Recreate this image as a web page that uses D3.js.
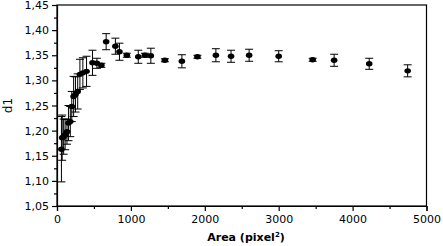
<!DOCTYPE html>
<html>
<head>
<meta charset="utf-8">
<script src="https://cdn.jsdelivr.net/npm/d3@7"></script>
<style>
  body { margin: 0; background: #fff; }
  svg { display: block; }
  text { font-family: "DejaVu Sans", Verdana, sans-serif; fill: #000; }
</style>
</head>
<body>
<div id="container"></div>
<script>
// data
const area = [60, 70, 90, 110, 135, 155, 180, 200, 225, 250, 280, 310, 350, 400, 480, 540, 600,
  665, 790, 845, 945, 1100, 1190, 1270, 1460, 1690, 1900, 2150, 2355, 2600, 3000, 3460, 3750, 4225, 4745]
const d1 = [1.163, 1.186, 1.188, 1.192, 1.198, 1.215, 1.218, 1.248, 1.268, 1.272, 1.278, 1.312, 1.315, 1.318, 1.335, 1.334, 1.330,
  1.377, 1.368, 1.357, 1.350, 1.347, 1.350, 1.349, 1.340, 1.338, 1.347, 1.350, 1.348, 1.350, 1.348, 1.341, 1.340, 1.333, 1.319]
const err = [0.065, 0.045, 0.035, 0.03, 0.025, 0.035, 0.03, 0.03, 0.04, 0.035, 0.035, 0.03, 0.03, 0.03, 0.025, 0.01, 0.004,
  0.016, 0.016, 0.017, 0.004, 0.013, 0.004, 0.015, 0.003, 0.013, 0.003, 0.013, 0.012, 0.012, 0.011, 0.003, 0.012, 0.011, 0.012]

const xTicks = [0, 1000, 2000, 3000, 4000, 5000]
const yTicks = [1.05, 1.10, 1.15, 1.20, 1.25, 1.30, 1.35, 1.40, 1.45]

const width = 443
const height = 246
const marginLeft = 57
const marginRight = 16.5
const marginTop = 5
const marginBottom = 40

const points = area.map((a, i) => ({ area: a, d1: d1[i], err: err[i] }))

const x = d3.scaleLinear()
    .domain([0, 5000])
    .range([marginLeft, width - marginRight])
const y = d3.scaleLinear()
    .domain([1.05, 1.45])
    .range([height - marginBottom, marginTop])

const comma = d3.formatLocale({ decimal: ',', thousands: '.', grouping: [3], currency: ['', ''] })

const svg = d3.create('svg')
    .attr('width', width)
    .attr('height', height)

// minor ticks first
svg.append('g')
    .attr('transform', `translate(0,${height - marginBottom})`)
    .call(d3.axisBottom(x).tickValues(d3.range(500, 5000, 1000)).tickSize(3).tickFormat(''))
    .call(g => g.select('.domain').remove())
svg.append('g')
    .attr('transform', `translate(${marginLeft},0)`)
    .call(d3.axisLeft(y).tickValues(d3.range(1.075, 1.45, 0.05)).tickSize(3).tickFormat(''))
    .call(g => g.select('.domain').remove())

// x axis
svg.append('g')
    .attr('transform', `translate(0,${height - marginBottom})`)
    .call(d3.axisBottom(x).tickValues(xTicks).tickSize(5).tickPadding(3).tickFormat(d3.format('d')))
    .call(g => g.selectAll('text').style('font-size', '11px').attr('dy', '0.85em'))

// y axis
svg.append('g')
    .attr('transform', `translate(${marginLeft},0)`)
    .call(d3.axisLeft(y).tickValues(yTicks).tickSize(5).tickPadding(3).tickFormat(comma.format('.2f')))
    .call(g => g.selectAll('text').style('font-size', '11px'))

svg.selectAll('.domain, .tick line').attr('stroke', '#000').attr('stroke-width', 1.2)

// box
svg.append('rect')
    .attr('x', x(0))
    .attr('y', y(1.45))
    .attr('width', x(5000) - x(0))
    .attr('height', y(1.05) - y(1.45))
    .attr('fill', 'none')
    .attr('stroke', '#000')
    .attr('stroke-width', 1.2)

// error bars
const bars = svg.append('g').attr('stroke', '#000').attr('stroke-width', 1)
bars.selectAll('line.v')
    .data(points)
    .join('line')
    .attr('class', 'v')
    .attr('x1', d => x(d.area))
    .attr('x2', d => x(d.area))
    .attr('y1', d => y(d.d1 - d.err))
    .attr('y2', d => y(d.d1 + d.err))
bars.selectAll('line.top')
    .data(points)
    .join('line')
    .attr('class', 'top')
    .attr('x1', d => x(d.area) - 4)
    .attr('x2', d => x(d.area) + 4)
    .attr('y1', d => y(d.d1 + d.err))
    .attr('y2', d => y(d.d1 + d.err))
bars.selectAll('line.bot')
    .data(points)
    .join('line')
    .attr('class', 'bot')
    .attr('x1', d => x(d.area) - 4)
    .attr('x2', d => x(d.area) + 4)
    .attr('y1', d => y(d.d1 - d.err))
    .attr('y2', d => y(d.d1 - d.err))

// markers
svg.append('g')
    .selectAll('ellipse')
    .data(points)
    .join('ellipse')
    .attr('cx', d => x(d.area))
    .attr('cy', d => y(d.d1))
    .attr('rx', 3.3)
    .attr('ry', 2.7)
    .attr('fill', '#000')

// axis titles
const xTitle = svg.append('text')
    .attr('x', 246)
    .attr('y', 241)
    .attr('text-anchor', 'middle')
    .style('font-size', '11px')
    .style('font-weight', 'bold')
xTitle.append('tspan').text('Area (pixel')
xTitle.append('tspan').attr('dy', -4).style('font-size', '7px').text('2')
xTitle.append('tspan').attr('dy', 4).text(')')

svg.append('text')
    .attr('transform', `translate(12,${(y(1.05) + y(1.45)) / 2})rotate(-90)`)
    .attr('text-anchor', 'middle')
    .style('font-size', '12px')
    .text('d1')

d3.select('#container').append(() => svg.node())
</script>
</body>
</html>
